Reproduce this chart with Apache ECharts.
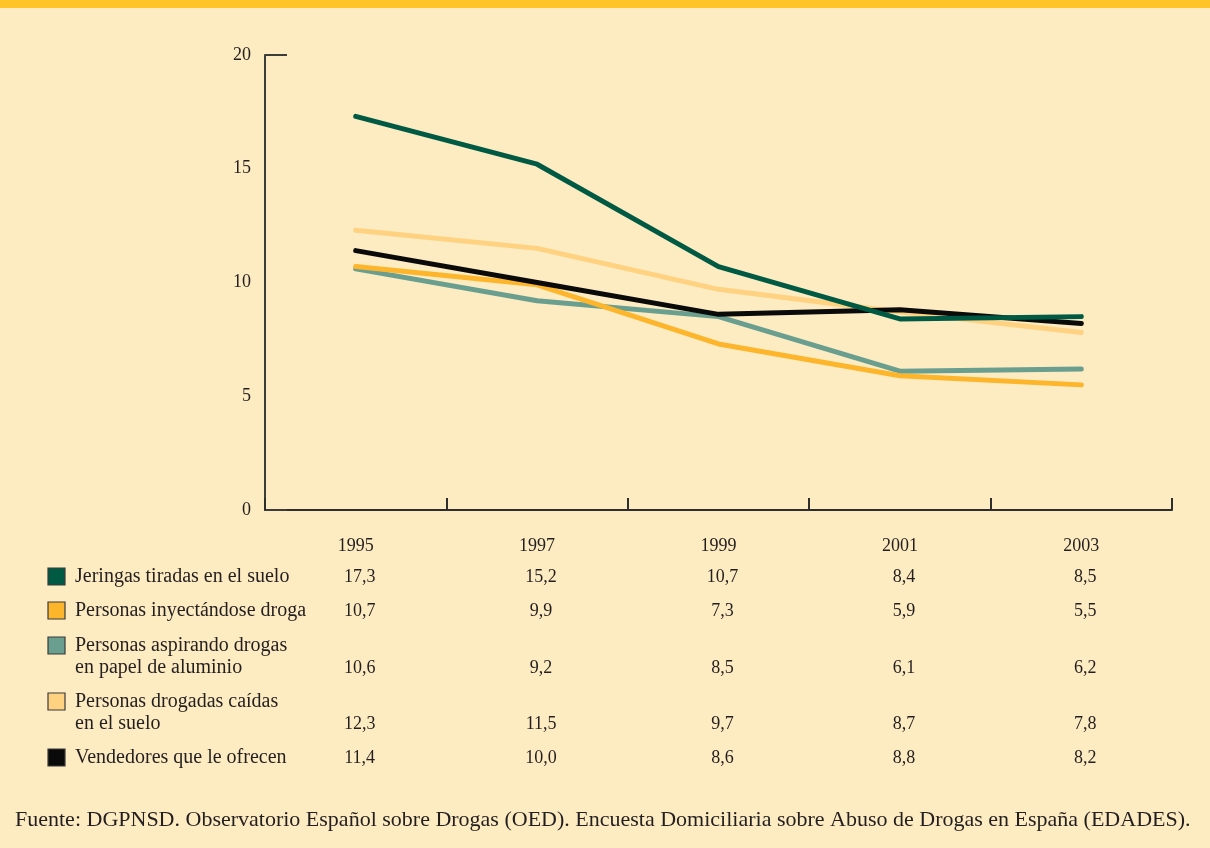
<!DOCTYPE html>
<html lang="es">
<head>
    <meta charset="UTF-8">
    <script type="text/javascript" src="https://cdn.jsdelivr.net/npm/echarts@6/dist/echarts.min.js"></script>
    <title>Encuesta EDADES</title>
    <style>
        html, body { margin: 0; padding: 0; }
        #t_data { width: 1210px; height: 848px; }
    </style>
</head>
<body>
    <div id="t_data"></div>
</body>
</html>
<script>
    // datos
    var years = ['1995', '1997', '1999', '2001', '2003'];
    var names = [
        'Jeringas tiradas en el suelo',
        'Personas inyectándose droga',
        'Personas aspirando drogas\nen papel de aluminio',
        'Personas drogadas caídas\nen el suelo',
        'Vendedores que le ofrecen'
    ];
    var jeringas = [17.3, 15.2, 10.7, 8.4, 8.5];
    var inyectando = [10.7, 9.9, 7.3, 5.9, 5.5];
    var aspirando = [10.6, 9.2, 8.5, 6.1, 6.2];
    var caidas = [12.3, 11.5, 9.7, 8.7, 7.8];
    var vendedores = [11.4, 10.0, 8.6, 8.8, 8.2];
    var yTicks = [0, 20];
    var fuente = 'Fuente: DGPNSD. Observatorio Español sobre Drogas (OED). Encuesta Domiciliaria sobre Abuso de Drogas en España (EDADES).';

    var allData = [jeringas, inyectando, aspirando, caidas, vendedores];
    var colors = ['#005a43', '#fdb52b', '#6a9e8f', '#ffd281', '#0a0a0a'];
    var drawOrder = [3, 2, 1, 4, 0];
    var font = 'Liberation Serif';
    var ink = '#231f20';

    var myChart = echarts.init(document.getElementById('t_data'));
    myChart.setOption({
        animation: false,
        backgroundColor: '#fdebc1',
        grid: { left: 265, right: 38, top: 55, bottom: 338 },
        xAxis: {
            type: 'category',
            data: years,
            boundaryGap: true,
            axisLine: { lineStyle: { color: '#2e2e2e', width: 2 } },
            axisTick: { show: true, interval: 0, inside: true, length: 12,
                lineStyle: { color: '#2e2e2e', width: 2 } },
            axisLabel: { margin: 27, fontSize: 18, fontFamily: font, color: ink }
        },
        yAxis: {
            type: 'value',
            min: 0, max: 20, interval: 5,
            axisLine: { show: true, lineStyle: { color: '#3c3c3c', width: 2 } },
            axisTick: { show: true, inside: true, length: 22, customValues: yTicks,
                lineStyle: { color: '#3c3c3c', width: 2 } },
            axisLabel: { margin: 14, fontSize: 18, fontFamily: font, color: ink },
            splitLine: { show: false }
        },
        series: drawOrder.map(function (i) {
            return {
                name: names[i],
                type: 'line',
                data: allData[i],
                symbol: 'none',
                z: 2 + drawOrder.indexOf(i),
                lineStyle: { color: colors[i], width: 5, cap: 'round', join: 'round' }
            };
        })
    });

    // tabla de valores bajo el gráfico
    var rowY = [577, 611, 646, 702, 758];
    var lineH = 22;
    var g = [
        { type: 'rect', shape: { x: 0, y: 0, width: 1210, height: 8 }, style: { fill: '#ffc425' } },
        { type: 'text', x: 15, y: 820, style: { text: fuente, font: '22px "' + font + '"', fill: ink, verticalAlign: 'middle' } }
    ];
    names.forEach(function (name, i) {
        var lines = name.split('\n');
        g.push({ type: 'rect', shape: { x: 48, y: rowY[i] - 9, width: 17, height: 17 },
            style: { fill: colors[i], stroke: '#3a3a3a', lineWidth: 1.2 } });
        lines.forEach(function (t, k) {
            g.push({ type: 'text', x: 75, y: rowY[i] + k * lineH,
                style: { text: t, font: '20px "' + font + '"', fill: ink, verticalAlign: 'middle' } });
        });
        var vy = rowY[i] + (lines.length - 1) * lineH;
        allData[i].forEach(function (v, j) {
            var px = myChart.convertToPixel({ xAxisIndex: 0 }, years[j]);
            g.push({ type: 'text', x: px + 4, y: vy,
                style: { text: v.toFixed(1).replace('.', ','), font: '18px "' + font + '"', fill: ink,
                    align: 'center', verticalAlign: 'middle' } });
        });
    });
    myChart.setOption({ graphic: g });
</script>
